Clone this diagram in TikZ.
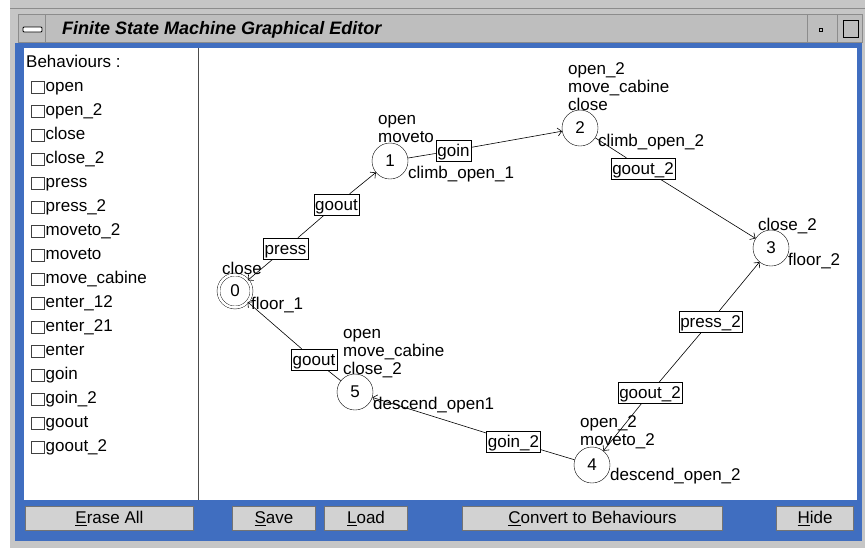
\documentclass[tikz,border=0pt]{standalone}
\usepackage{fontspec}
\setmainfont{Liberation Sans}
\usetikzlibrary{arrows.meta}

\definecolor{winblue}{RGB}{64,110,192}
\definecolor{framegray}{RGB}{198,198,198}
\definecolor{bargray}{RGB}{190,190,190}
\definecolor{btngray}{RGB}{210,210,210}
\newcommand\uifont{\fontsize{17}{18}\selectfont}

\tikzset{
  state/.style={circle, draw, minimum size=36pt, inner sep=0pt, font=\uifont},
  final/.style={state, minimum size=33pt, double, double distance=2.5pt},
  lblbox/.style={draw, fill=white, inner xsep=1.5pt, inner ysep=3pt, text height=13pt, text depth=2pt, font=\uifont},
  note/.style={anchor=base west, inner sep=0pt, align=left, font=\uifont},
  item/.style={anchor=base west, inner sep=0pt, font=\uifont},
  chk/.style={draw=black!75, fill=white, minimum width=13pt, minimum height=12pt, inner sep=0pt, anchor=south west},
  btn/.style={draw=black!55, fill=btngray, line width=1pt, minimum height=24pt, anchor=south west, inner sep=0pt, font=\uifont},
  trans/.style={line width=0.6pt, -{Straight Barb[length=4pt,width=8pt]}},
  seg/.style={line width=0.6pt},
}

\begin{document}
\begin{tikzpicture}[x=1pt, y=-1pt]
    \useasboundingbox (0,0) rectangle (865,550);
    \fill[white] (0,0) rectangle (865,550);
    \fill[framegray] (10,0) rectangle (865,548);
    \draw[black!45] (10,8) -- (865,8);

    % title bar
    \filldraw[fill=bargray, draw=black!45] (18,14) rectangle (862,42);
    \draw[black!45] (45,14) -- (45,42) (807,14) -- (807,42) (837,14) -- (837,42);
    \draw[rounded corners=1pt, fill=white, line width=0.8pt] (23,27) rectangle (42,32);
    \draw[line width=1pt] (819,28) rectangle (822,31);
    \draw[line width=1pt] (843,20) rectangle (858,37);
    \node[anchor=base west, inner sep=0pt, font=\fontsize{18}{20}\selectfont\bfseries\itshape] (title) at (62,34) {Finite State Machine Graphical Editor};

    % panels
    \fill[winblue] (15,43) rectangle (862,541);
    \fill[white] (24,48) rectangle (857,500);
    \draw[black!70, line width=1pt] (198,48) -- (198,500);

    % behaviour list
    \node[item] (behaviours) at (26,67.5) {Behaviours :};
    \foreach \beh [count=\i from 0] in {open, open\_2, close, close\_2, press, press\_2, moveto\_2, moveto, move\_cabine, enter\_12, enter\_21, enter, goin, goin\_2, goout, goout\_2}{
        \node[chk] (chk\i) at (31,93.5+24*\i) {};
        \node[item] (beh\i) at (45.5,91.5+24*\i) {\beh};
    }

    % buttons
    \node[btn, minimum width=168pt] (eraseBtn) at (25,531) {\underline{E}rase All};
    \node[btn, minimum width=83pt] (saveBtn) at (232,531) {\underline{S}ave};
    \node[btn, minimum width=83pt] (loadBtn) at (324,531) {\underline{L}oad};
    \node[btn, minimum width=260pt] (convertBtn) at (462,531) {\underline{C}onvert to Behaviours};
    \node[btn, minimum width=77pt] (hideBtn) at (776,531) {\underline{H}ide};

    % states
    \node[final] (s0) at (235,291) {0};
    \node[state] (s1) at (390,161) {1};
    \node[state] (s2) at (580,128) {2};
    \node[state] (s3) at (771,248) {3};
    \node[state] (s4) at (592,465) {4};
    \node[state] (s5) at (355,392) {5};

    % notes: base is the last line
    \node[note] (s0in) at (222,274) {close};
    \node[note] (s0out) at (251,309) {floor\_1};
    \node[note] (s1in) at (378,142) {open\\moveto};
    \node[note] (s1out) at (408,178) {climb\_open\_1};
    \node[note] (s2in) at (568,110) {open\_2\\move\_cabine\\close};
    \node[note] (s2out) at (598,146) {climb\_open\_2};
    \node[note] (s3in) at (758,230) {close\_2};
    \node[note] (s3out) at (788,265) {floor\_2};
    \node[note] (s4in) at (580,445) {open\_2\\moveto\_2};
    \node[note] (s4out) at (610,480) {descend\_open\_2};
    \node[note] (s5in) at (343,374) {open\\move\_cabine\\close\_2};
    \node[note] (s5out) at (373,409) {descend\_open1};

    % transition labels
    \node[lblbox] (pressBox) at (285.5,248.5) {press};
    \node[lblbox] (gooutBox) at (336.5,204.5) {goout};
    \node[lblbox] (goinBox) at (453.5,150.5) {goin};
    \node[lblbox] (goouttwoBox) at (643,168.5) {goout\_2};
    \node[lblbox] (presstwoBox) at (710.5,321.5) {press\_2};
    \node[lblbox] (goouttwoBoxb) at (650,393) {goout\_2};
    \node[lblbox] (gointwoBox) at (513.5,441.5) {goin\_2};
    \node[lblbox] (gooutBoxb) at (314,359.5) {goout};

    % transitions
    \draw[trans] (pressBox) -- (s0);
    \draw[seg] (pressBox) -- (gooutBox);
    \draw[trans] (gooutBox) -- (s1);
    \draw[seg] (s1) -- (goinBox);
    \draw[trans] (goinBox) -- (s2);
    \draw[seg] (s2) -- (goouttwoBox);
    \draw[trans] (goouttwoBox) -- (s3);
    \draw[trans] (goouttwoBoxb) -- (s4);
    \draw[seg] (goouttwoBoxb) -- (presstwoBox);
    \draw[trans] (presstwoBox) -- (s3);
    \draw[seg] (s4) -- (gointwoBox);
    \draw[trans] (gointwoBox) -- (s5);
    \draw[seg] (s5) -- (gooutBoxb);
    \draw[trans] (gooutBoxb) -- (s0);
\end{tikzpicture}
\end{document}
